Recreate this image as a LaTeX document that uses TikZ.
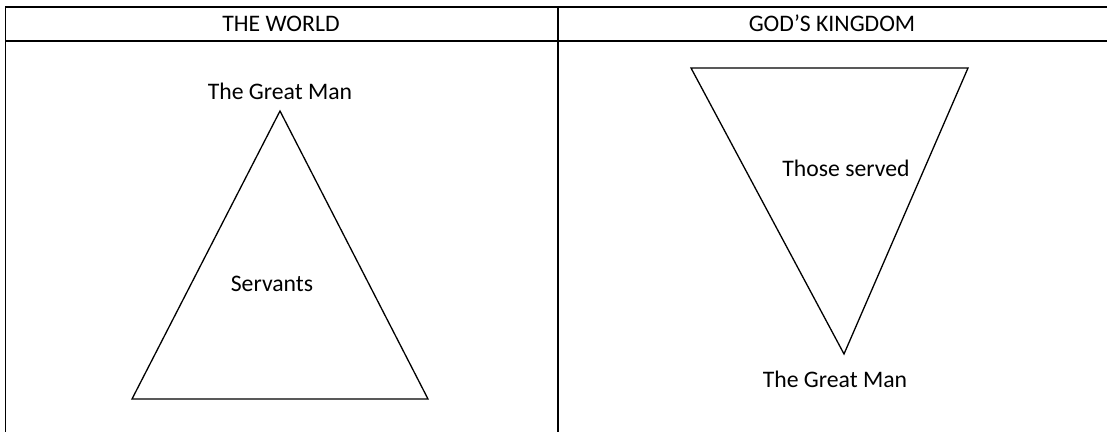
\documentclass[tikz,border=0pt]{standalone}
\usepackage{fontspec}
\setmainfont{Carlito}
\usetikzlibrary{positioning}

\begin{document}
\begin{tikzpicture}[x=0.5pt, y=-0.5pt,
    rule/.style={line width=0.85pt, black},
    tri/.style={line width=0.65pt, black, line join=miter},
    lbl/.style={inner sep=0pt, anchor=base, font=\fontsize{11.85}{14}\selectfont},
  ]
    \useasboundingbox (0,0) rectangle (1107,432);

    % table frame
    \draw[rule] (5.5,432) -- (5.5,7) -- (1107,7);
    \draw[rule] (5.5,41) -- (1107,41);
    \draw[rule] (558,7) -- (558,432);

    \node[lbl] (hworld) at (281,32) {THE WORLD};
    \node[lbl] (hkingdom) at (832,32) {GOD’S KINGDOM};

    % the world
    \coordinate (wtop) at (280,111);
    \coordinate (wleft) at (132,399);
    \coordinate (wright) at (428,399);
    \draw[tri] (wtop) -- (wleft) -- (wright) -- cycle;
    \node[lbl] (wgreat) at (280,100) {The Great Man};
    \node[lbl] (wserv) at (272,292) {Servants};

    % god's kingdom
    \coordinate (kleft) at (691,68);
    \coordinate (kright) at (968,68);
    \coordinate (kbot) at (844,354);
    \draw[tri] (kleft) -- (kright) -- (kbot) -- cycle;
    \node[lbl] (kserved) at (846,177) {Those served};
    \node[lbl] (kgreat) at (835,387) {The Great Man};
  \end{tikzpicture}
\end{document}
